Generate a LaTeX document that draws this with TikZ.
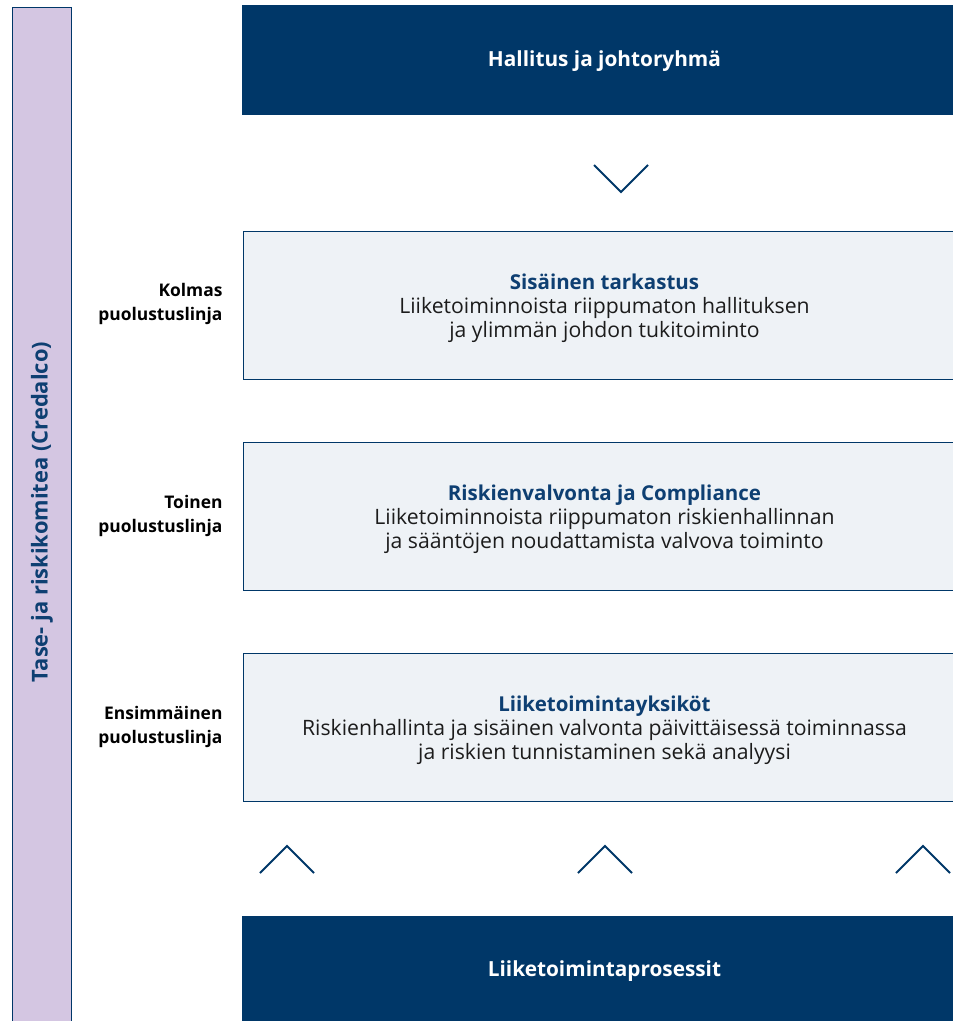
\documentclass[tikz,border=0pt]{standalone}
\usepackage{fontspec}
\setmainfont{Open Sans}
\usepackage{xcolor}
\definecolor{navy}{HTML}{003768}
\definecolor{titleblue}{HTML}{0E3F72}
\definecolor{lilac}{HTML}{D4C6E2}
\definecolor{paleblue}{HTML}{EEF2F6}
\definecolor{bodytext}{HTML}{1C1C1C}
\newcommand{\boxhead}[1]{{\color{titleblue}\fontsize{20.5}{24}\selectfont\bfseries #1}}

\begin{document}
\begin{tikzpicture}[x=1pt,y=-1pt,
  darkbox/.style={fill=navy,draw=none,minimum width=724pt,minimum height=110pt,inner sep=0pt},
  darktext/.style={text=white,font=\fontsize{20.8}{24}\selectfont\bfseries},
  linebox/.style={fill=paleblue,draw=navy,line width=1pt,minimum width=724pt,minimum height=148pt,inner sep=0pt},
  boxtext/.style={align=center,text=bodytext,font=\fontsize{21.2}{24}\selectfont},
  linelabel/.style={anchor=east,align=right,font=\fontsize{17.4}{24}\selectfont\bfseries,text=black},
  chevron/.style={draw=navy,line width=2pt}]
\useasboundingbox (0,0) rectangle (953,1021);

% committee bar
\node[fill=lilac,draw=navy,line width=1pt,minimum width=59pt,minimum height=1030pt,inner sep=0pt,anchor=north] (bar) at (42,6.5) {};
\node[rotate=90,text=titleblue,font=\fontsize{21.9}{24}\selectfont\bfseries] (barlabel) at (42,512) {Tase- ja riskikomitea (Credalco)};

% boxes
\node[darkbox,anchor=north west] (board) at (242,5) {};
\node[darktext] (boardtext) at (604.5,61) {Hallitus ja johtoryhmä};

\node[linebox,anchor=north west] (third) at (243,231) {};
\node[linebox,anchor=north west] (second) at (243,442) {};
\node[linebox,anchor=north west] (first) at (243,653) {};

\node[boxtext] (thirdtext) at (604.5,308) {\boxhead{Sisäinen tarkastus}\\Liiketoiminnoista riippumaton hallituksen\\ja ylimmän johdon tukitoiminto};
\node[boxtext] (secondtext) at (604.5,519) {\boxhead{Riskienvalvonta ja Compliance}\\Liiketoiminnoista riippumaton riskienhallinnan\\ja sääntöjen noudattamista valvova toiminto};
\node[boxtext] (firsttext) at (604.5,730) {\boxhead{Liiketoimintayksiköt}\\Riskienhallinta ja sisäinen valvonta päivittäisessä toiminnassa\\ja riskien tunnistaminen sekä analyysi};

\node[darkbox,anchor=north west] (process) at (242,916) {};
\node[darktext] (processtext) at (604.5,971) {Liiketoimintaprosessit};

% line labels
\node[linelabel] (thirdlabel) at (226,304) {Kolmas\\puolustuslinja};
\node[linelabel] (secondlabel) at (226,516) {Toinen\\puolustuslinja};
\node[linelabel] (firstlabel) at (226,727) {Ensimmäinen\\puolustuslinja};

% chevrons
\draw[chevron] (594,165) -- (621,192) -- (648,165);
\foreach \cx in {287,605,923}
  \draw[chevron] (\cx-27,873) -- (\cx,846) -- (\cx+27,873);

\end{tikzpicture}
\end{document}
